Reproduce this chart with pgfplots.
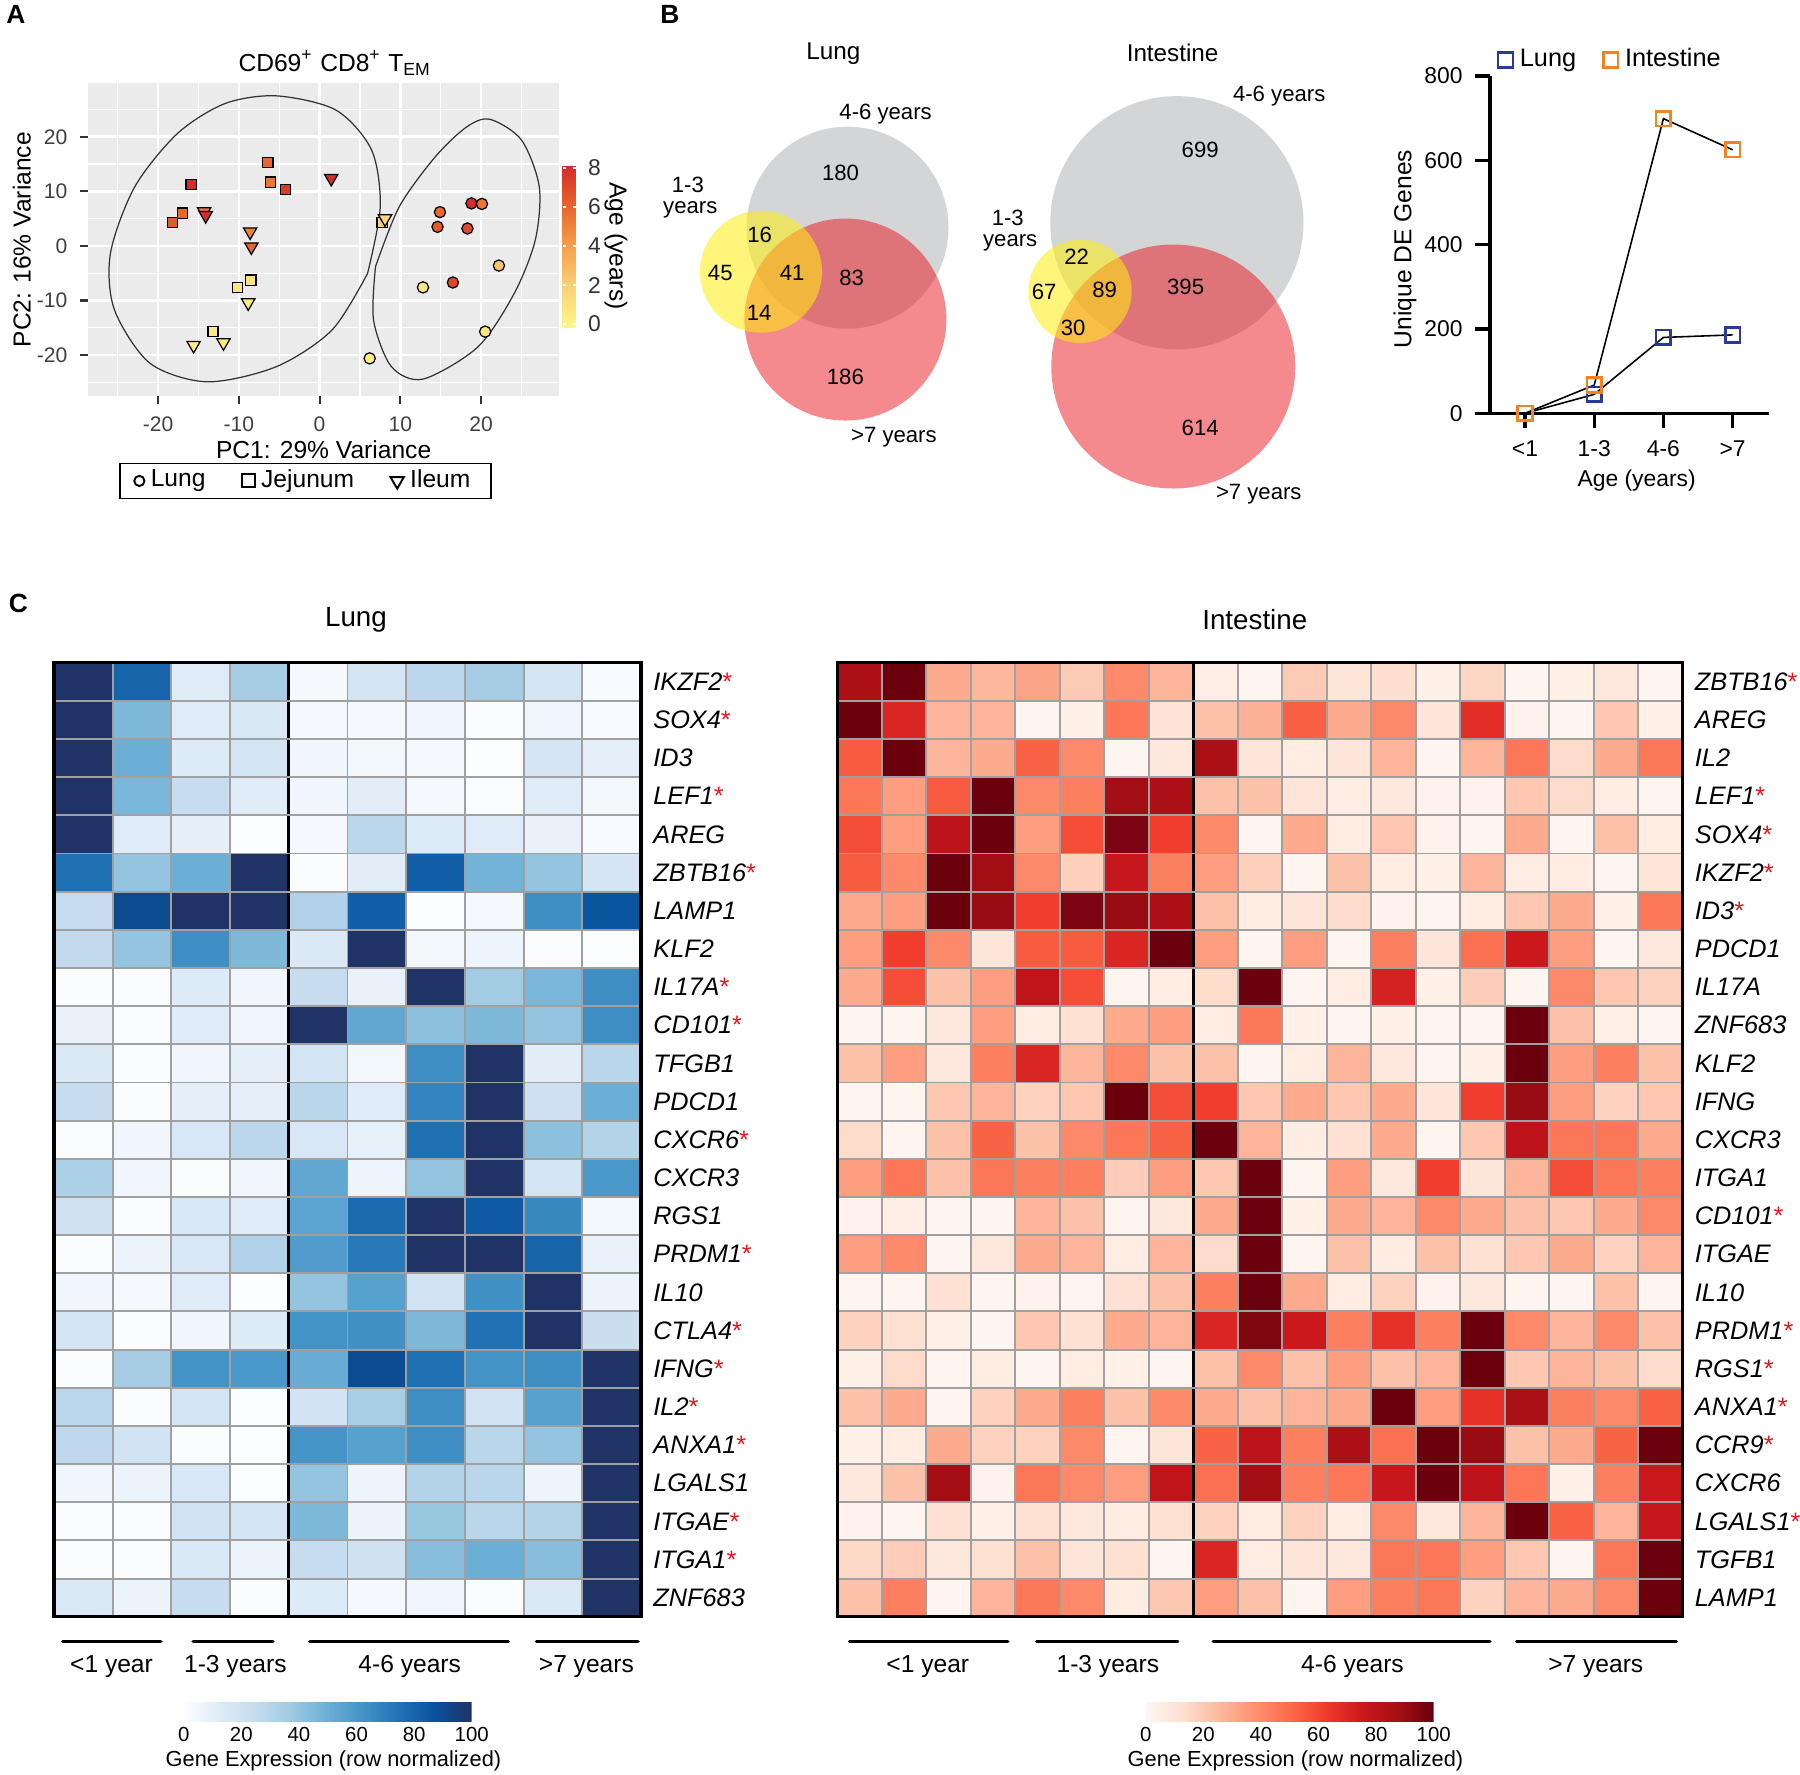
\documentclass[border=0pt]{standalone}
\usepackage{fontspec}
\setmainfont{Liberation Sans}
\usepackage{pgfplots}
\pgfplotsset{compat=1.18}

\definecolor{panelbg}{HTML}{EBEBEB}
\definecolor{tickgray}{HTML}{333333}
\definecolor{venngray}{HTML}{D4D5D7}
\definecolor{vennred}{RGB}{233,21,29}
\definecolor{vennyellow}{RGB}{255,237,13}
\definecolor{lungblue}{HTML}{2B3A96}
\definecolor{gutorange}{HTML}{F5821F}
\definecolor{starred}{HTML}{E8141A}
\definecolor{cellgrid}{HTML}{A0A0A0}

\newcommand{\fs}[1]{\fontsize{#1}{#1}\selectfont}
\newcommand{\g}[1]{\textit{#1}}
\newcommand{\gs}[1]{\textit{#1}\textcolor{starred}{*}}

\tikzset{grouplabel/.style={font=\fs{7pt}}, venn/.style={font=\fs{6.3pt}}}

\pgfplotsset{
  /pgf/number format/assume math mode=true,
  colormap={age}{rgb255(0cm)=(255,246,138) rgb255(2cm)=(250,208,120) rgb255(4cm)=(245,160,76) rgb255(6cm)=(232,100,46) rgb255(8cm)=(212,42,42)},
  colormap={blues}{rgb255(0cm)=(252,253,255) rgb255(1cm)=(222,235,247) rgb255(2cm)=(198,219,239) rgb255(3cm)=(158,202,225) rgb255(4cm)=(107,174,214) rgb255(5cm)=(66,146,198) rgb255(6cm)=(33,113,181) rgb255(7cm)=(8,81,156) rgb255(8cm)=(31,51,102)},
  colormap={reds}{rgb255(0cm)=(255,247,243) rgb255(1cm)=(254,224,210) rgb255(2cm)=(252,187,161) rgb255(3cm)=(252,146,114) rgb255(4cm)=(251,106,74) rgb255(5cm)=(239,59,44) rgb255(6cm)=(203,24,29) rgb255(7cm)=(165,15,21) rgb255(8cm)=(103,0,13)},
  marklegend/.style={legend image code/.code={\draw[##1] plot coordinates {(0cm,0cm)};}},
  heatmap/.style={
    scale only axis, axis on top, clip=false,
    xmin=0.5, ymin=0.5, ymax=25.5,
    axis line style={line width=0.9pt},
    xticklabel=\empty, xmajorgrids=true,
    ytick={1,...,25}, yticklabel pos=right,
    minor ytick={0.5,1.5,...,25.5}, yminorgrids=true, ymajorgrids=false,
    grid style={cellgrid, line width=0.55pt},
    major tick length=0pt, minor tick length=0pt,
    yticklabel style={font=\fs{7.2pt}},
    point meta min=0, point meta max=100,
    colorbar horizontal,
    colorbar style={
      at={(parent axis.south west)}, anchor=north west,
      scale only axis, width=2.88cm, height=0.19cm,
      xtick={0,20,...,100}, xticklabel pos=lower,
      major tick length=0pt, axis line style={draw=none},
      xticklabel style={font=\fs{5.8pt}, inner sep=1.5pt},
      xlabel={Gene Expression (row normalized)},
      xlabel style={font=\fs{6.2pt}, at={(axis description cs:0.52,0)}, anchor=center, yshift=-0.39cm},
    },
  },
}

\begin{document}
\begin{tikzpicture}
\useasboundingbox (0,0) rectangle (18cm,-17.74cm);

% ---------------- A: PCA ----------------
\begin{axis}[
  at={(3.2365cm,-2.3965cm)}, anchor=center,
  scale only axis, width=4.717cm, height=3.127cm,
  xmin=-28.7, xmax=29.7, ymin=-27.5, ymax=29.8,
  axis background/.style={fill=panelbg},
  axis line style={draw=none},
  tick pos=left, tick align=outside,
  xtick={-20,-10,...,20}, ytick={-20,-10,...,20},
  minor xtick={-25,-15,...,25}, minor ytick={-25,-15,...,25},
  grid=both,
  major grid style={white, line width=0.75pt},
  minor grid style={white, line width=0.35pt},
  major tick length=0.08cm, minor tick length=0pt,
  tick style={tickgray, line width=0.6pt},
  ticklabel style={font=\fs{6pt}, text=black!75},
  xlabel={PC1: 29\% Variance}, ylabel={PC2: 16\% Variance},
  label style={font=\fs{7pt}},
  xlabel style={at={(axis description cs:0.5,-0.173)}, anchor=center},
  ylabel style={at={(axis description cs:-0.14,0.5)}, anchor=center},
  colormap name=age, point meta min=-0.15, point meta max=8.15,
  colorbar,
  colorbar style={
    at={(parent axis.east)}, anchor=west, xshift=-0.268cm, yshift=-0.0635cm,
    scale only axis, width=0.13cm, height=1.62cm,
    ytick={0,2,...,8}, yticklabel pos=right, ytick pos=both,
    tick align=inside, major tick length=0.03cm, tick style={white, line width=0.4pt},
    axis line style={draw=none},
    yticklabel style={font=\fs{6.5pt}, text=black!80},
    ylabel={Age (years)},
    ylabel style={font=\fs{7pt}, rotate=180, at={(axis description cs:4.1,0.5)}, anchor=center},
  },
  legend columns=3, legend cell align=left,
  legend style={at={(0.4615,-0.2715)}, anchor=center, draw=black, line width=0.5pt,
    font=\fs{7pt}, inner xsep=4pt, inner ysep=0.5pt,
    nodes={inner ysep=1.2pt, inner xsep=1.8pt},
    /tikz/every even column/.append style={column sep=0.3cm}},
]
\addlegendimage{only marks, mark=o, mark size=1.45pt, mark options={black, line width=0.55pt}, marklegend}
\addlegendentry{Lung}
\addlegendimage{only marks, mark=square, mark size=1.85pt, mark options={black, line width=0.55pt}, marklegend}
\addlegendentry{Jejunum}
\addlegendimage{only marks, mark=triangle, mark size=2.2pt, mark options={black, rotate=180, line width=0.55pt}, marklegend}
\addlegendentry{Ileum}

% group ellipses
\addplot[forget plot, black!80, line width=0.35pt, smooth] coordinates {
  (5.94,-5.03) (1.54,-15.4) (-5.32,-22.1) (-13.9,-24.9) (-21.0,-21.5) (-25.4,-11.7)
  (-25.9,-1.37) (-22.9,10.8) (-17.6,20.6) (-11.7,26.1) (-5.32,27.5) (2.02,24.9)
  (6.43,17.6) (7.51,7.18) (5.94,-5.03)};
\addplot[forget plot, black!80, line width=0.35pt, smooth] coordinates {
  (6.92,-3.81) (9.86,7.18) (14.3,16.3) (18.2,21.8) (21.1,23.2) (25.0,19.4) (27.2,10.8)
  (26.7,1.07) (24.1,-8.69) (19.6,-18.5) (12.8,-24.4) (8.88,-22.1) (6.68,-13.6) (6.92,-3.81)};

% Jejunum
\addplot[forget plot, scatter, only marks, mark=square*, mark size=1.45pt, point meta=explicit,
  scatter/use mapped color={draw=black, fill=mapped color, line width=0.35pt}] coordinates {
  (-6.4,15.3) [6] (-6.05,11.7) [5.5] (-4.24,10.3) [7.5] (-15.9,11.3) [8] (-17.0,6.0) [6]
  (-18.2,4.25) [6.5] (7.75,4.25) [2] (-8.5,-6.25) [1] (-10.2,-7.6) [0.8] (-13.2,-15.7) [0.5]};
% Ileum
\addplot[forget plot, scatter, only marks, mark=triangle*, mark size=2.2pt, point meta=explicit,
  mark options={rotate=180},
  scatter/use mapped color={draw=black, fill=mapped color, line width=0.35pt}] coordinates {
  (1.44,12.4) [8] (-14.3,6.3) [5.5] (-14.1,5.6) [8] (-8.6,2.6) [5] (-8.45,-0.15) [6]
  (-8.84,-10.4) [0.5] (-15.6,-18.2) [0.5] (-11.9,-17.7) [0.5] (8.1,5.0) [1.5]};
% Lung
\addplot[forget plot, scatter, only marks, mark=*, mark size=1.6pt, point meta=explicit,
  scatter/use mapped color={draw=black, fill=mapped color, line width=0.35pt}] coordinates {
  (18.8,7.8) [8] (20.1,7.7) [5.5] (14.9,6.2) [6] (14.6,3.5) [6.5] (18.3,3.2) [7]
  (22.2,-3.6) [2.5] (12.8,-7.6) [0.8] (16.5,-6.7) [7] (20.5,-15.7) [0.8] (6.2,-20.6) [0.3]};
\end{axis}

% ---------------- B: Venn diagrams (axis units = picture pixels) ----------------
\begin{axis}[
  at={(9.9cm,-2.75cm)}, anchor=center,
  scale only axis, width=7cm, height=4.9cm,
  xmin=640, xmax=1340, ymin=30, ymax=520, y dir=reverse,
  hide axis, clip=false,
]
% lung
\addplot[only marks, mark=*, mark size=28.74pt, mark options={draw opacity=0, fill=venngray}] coordinates {(847.5,227.7)};
\addplot[only marks, mark=*, mark size=28.74pt, mark options={draw opacity=0, fill=vennred, fill opacity=0.5}] coordinates {(845.4,319.5)};
\addplot[only marks, mark=*, mark size=17.36pt, mark options={draw opacity=0, fill=vennyellow, fill opacity=0.55}] coordinates {(761,271.7)};
% intestine
\addplot[only marks, mark=*, mark size=36.02pt, mark options={draw opacity=0, fill=venngray}] coordinates {(1176.9,222.7)};
\addplot[only marks, mark=*, mark size=34.71pt, mark options={draw opacity=0, fill=vennred, fill opacity=0.5}] coordinates {(1173.3,366.5)};
\addplot[only marks, mark=*, mark size=14.71pt, mark options={draw opacity=0, fill=vennyellow, fill opacity=0.55}] coordinates {(1080,291.3)};
\end{axis}

% Venn labels and counts
\node[font=\fs{6.9pt}] at (8.333cm,-0.533cm) {Lung};
\node[venn] at (8.856cm,-1.14cm) {4-6 years};
\node[venn] at (6.879cm,-1.85cm) {1-3};
\node[venn] at (6.903cm,-2.10cm) {years};
\node[venn] at (8.939cm,-4.37cm) {>7 years};
\node[venn] at (8.405cm,-1.727cm) {180};
\node[venn] at (7.596cm,-2.35cm) {16};
\node[venn] at (7.203cm,-2.733cm) {45};
\node[venn] at (7.921cm,-2.73cm) {41};
\node[venn] at (8.517cm,-2.777cm) {83};
\node[venn] at (7.591cm,-3.127cm) {14};
\node[venn] at (8.454cm,-3.773cm) {186};
\node[font=\fs{6.9pt}] at (11.726cm,-0.533cm) {Intestine};
\node[venn] at (12.792cm,-0.957cm) {4-6 years};
\node[venn] at (10.078cm,-2.183cm) {1-3};
\node[venn] at (10.102cm,-2.43cm) {years};
\node[venn] at (12.588cm,-4.937cm) {>7 years};
\node[venn] at (12.002cm,-1.50cm) {699};
\node[venn] at (10.766cm,-2.567cm) {22};
\node[venn] at (10.441cm,-2.923cm) {67};
\node[venn] at (11.047cm,-2.90cm) {89};
\node[venn] at (11.856cm,-2.867cm) {395};
\node[venn] at (10.732cm,-3.277cm) {30};
\node[venn] at (12.002cm,-4.277cm) {614};

% ---------------- B: unique DE genes ----------------
\begin{axis}[
  at={(16.2965cm,-2.4465cm)}, anchor=center,
  scale only axis, width=2.793cm, height=3.373cm,
  xmin=-0.506, xmax=3.53, ymin=0, ymax=800,
  axis lines=left, axis line style={-, line width=0.95pt},
  clip=false,
  xtick={0,1,2,3}, xticklabels={<1,1-3,4-6,>7},
  ytick={0,200,...,800},
  tick align=outside, major tick length=0.15cm,
  tick style={black, line width=0.95pt},
  ticklabel style={font=\fs{6.5pt}},
  xlabel={Age (years)}, ylabel={Unique DE Genes},
  xlabel style={font=\fs{6.5pt}, at={(axis description cs:0.525,-0.198)}, anchor=center},
  ylabel style={font=\fs{7pt}, at={(axis description cs:-0.304,0.487)}, anchor=center},
  legend columns=2, legend cell align=left,
  legend style={draw=none, fill=none, at={(0.44,1.0475)}, anchor=center, font=\fs{7.2pt},
    /tikz/every even column/.append style={column sep=0.2cm}},
]
\addlegendimage{only marks, mark=square, mark size=2.1pt, mark options={draw=lungblue, line width=0.75pt}, marklegend}
\addlegendentry{Lung}
\addlegendimage{only marks, mark=square, mark size=2.1pt, mark options={draw=gutorange, line width=0.75pt}, marklegend}
\addlegendentry{Intestine}
\addplot[forget plot, black, line width=0.45pt, mark=square, mark size=2.1pt,
  mark options={draw=lungblue, line width=0.75pt}] coordinates {(0,0) (1,45) (2,180) (3,186)};
\addplot[forget plot, black, line width=0.45pt, mark=square, mark size=2.1pt,
  mark options={draw=gutorange, line width=0.75pt}] coordinates {(0,0) (1,67) (2,699) (3,625)};
\end{axis}

% ---------------- C: lung heatmap ----------------
\begin{axis}[heatmap,
  at={(3.475cm,-11.397cm)}, anchor=center, width=5.87cm, height=9.54cm,
  xmax=10.5,
  xtick={0.5,1.5,2.5,3.5,5.5,6.5,7.5,8.5,9.5,10.5},
  yticklabels={\g{ZNF683},\gs{ITGA1},\gs{ITGAE},\g{LGALS1},\gs{ANXA1},\gs{IL2},\gs{IFNG},\gs{CTLA4},\g{IL10},\gs{PRDM1},\g{RGS1},\g{CXCR3},\gs{CXCR6},\g{PDCD1},\g{TFGB1},\gs{CD101},\gs{IL17A},\g{KLF2},\g{LAMP1},\gs{ZBTB16},\g{AREG},\gs{LEF1},\g{ID3},\gs{SOX4},\gs{IKZF2}},
  colormap name=blues,
  colorbar style={xshift=1.297cm, yshift=-0.56cm},
]
\addplot[matrix plot*, mesh input=image, mesh/cols=10, point meta=explicit] coordinates {
(1,1) [14] (2,1) [7] (3,1) [24] (4,1) [1] (5,1) [13] (6,1) [3] (7,1) [5] (8,1) [1] (9,1) [14] (10,1) [100]
(1,2) [1] (2,2) [1] (3,2) [14] (4,2) [7] (5,2) [24] (6,2) [20] (7,2) [43] (8,2) [50] (9,2) [43] (10,2) [100]
(1,3) [1] (2,3) [1] (3,3) [19] (4,3) [18] (5,3) [45] (6,3) [7] (7,3) [39] (8,3) [29] (9,3) [31] (10,3) [100]
(1,4) [5] (2,4) [7] (3,4) [16] (4,4) [0] (5,4) [40] (6,4) [6] (7,4) [31] (8,4) [29] (9,4) [6] (10,4) [100]
(1,5) [27] (2,5) [19] (3,5) [1] (4,5) [0] (5,5) [61] (6,5) [56] (7,5) [64] (8,5) [29] (9,5) [40] (10,5) [100]
(1,6) [28] (2,6) [1] (3,6) [18] (4,6) [0] (5,6) [19] (6,6) [34] (7,6) [64] (8,6) [19] (9,6) [56] (10,6) [100]
(1,7) [1] (2,7) [35] (3,7) [62] (4,7) [60] (5,7) [51] (6,7) [90] (7,7) [76] (8,7) [62] (9,7) [64] (10,7) [100]
(1,8) [18] (2,8) [1] (3,8) [5] (4,8) [13] (5,8) [62] (6,8) [63] (7,8) [45] (8,8) [75] (9,8) [100] (10,8) [23]
(1,9) [5] (2,9) [3] (3,9) [12] (4,9) [0] (5,9) [40] (6,9) [56] (7,9) [19] (8,9) [63] (9,9) [100] (10,9) [7]
(1,10) [1] (2,10) [7] (3,10) [16] (4,10) [32] (5,10) [58] (6,10) [72] (7,10) [100] (8,10) [100] (9,10) [80] (10,10) [8]
(1,11) [20] (2,11) [1] (3,11) [16] (4,11) [12] (5,11) [55] (6,11) [78] (7,11) [100] (8,11) [84] (9,11) [66] (10,11) [4]
(1,12) [33] (2,12) [5] (3,12) [1] (4,12) [5] (5,12) [53] (6,12) [6] (7,12) [40] (8,12) [100] (9,12) [18] (10,12) [60]
(1,13) [1] (2,13) [5] (3,13) [16] (4,13) [28] (5,13) [16] (6,13) [9] (7,13) [76] (8,13) [100] (9,13) [42] (10,13) [31]
(1,14) [24] (2,14) [1] (3,14) [10] (4,14) [10] (5,14) [29] (6,14) [12] (7,14) [68] (8,14) [100] (9,14) [21] (10,14) [50]
(1,15) [14] (2,15) [1] (3,15) [5] (4,15) [10] (5,15) [18] (6,15) [4] (7,15) [64] (8,15) [100] (9,15) [11] (10,15) [29]
(1,16) [8] (2,16) [1] (3,16) [12] (4,16) [5] (5,16) [100] (6,16) [53] (7,16) [42] (8,16) [45] (9,16) [40] (10,16) [64]
(1,17) [1] (2,17) [1] (3,17) [13] (4,17) [5] (5,17) [24] (6,17) [8] (7,17) [100] (8,17) [36] (9,17) [46] (10,17) [64]
(1,18) [26] (2,18) [40] (3,18) [64] (4,18) [45] (5,18) [14] (6,18) [100] (7,18) [4] (8,18) [6] (9,18) [1] (10,18) [0]
(1,19) [25] (2,19) [90] (3,19) [100] (4,19) [100] (5,19) [32] (6,19) [82] (7,19) [0] (8,19) [3] (9,19) [64] (10,19) [86]
(1,20) [76] (2,20) [40] (3,20) [50] (4,20) [100] (5,20) [1] (6,20) [11] (7,20) [82] (8,20) [48] (9,20) [40] (10,20) [17]
(1,21) [100] (2,21) [12] (3,21) [10] (4,21) [0] (5,21) [3] (6,21) [28] (7,21) [13] (8,21) [12] (9,21) [8] (10,21) [2]
(1,22) [100] (2,22) [46] (3,22) [24] (4,22) [12] (5,22) [5] (6,22) [11] (7,22) [3] (8,22) [1] (9,22) [12] (10,22) [4]
(1,23) [100] (2,23) [50] (3,23) [13] (4,23) [18] (5,23) [5] (6,23) [4] (7,23) [3] (8,23) [0] (9,23) [17] (10,23) [10]
(1,24) [100] (2,24) [45] (3,24) [12] (4,24) [15] (5,24) [3] (6,24) [3] (7,24) [5] (8,24) [1] (9,24) [5] (10,24) [2]
(1,25) [100] (2,25) [80] (3,25) [12] (4,25) [35] (5,25) [3] (6,25) [18] (7,25) [28] (8,25) [35] (9,25) [18] (10,25) [2]
};
\addplot[forget plot, black, line width=0.75pt] coordinates {(4.5,0.5) (4.5,25.5)};
\addplot[forget plot, black, line width=1pt, line cap=round] coordinates {(0.65,-0.155) (2.32,-0.155)};
\addplot[forget plot, black, line width=1pt, line cap=round] coordinates {(2.87,-0.155) (4.23,-0.155)};
\addplot[forget plot, black, line width=1pt, line cap=round] coordinates {(4.86,-0.155) (8.24,-0.155)};
\addplot[forget plot, black, line width=1pt, line cap=round] coordinates {(8.72,-0.155) (10.45,-0.155)};
\node[grouplabel] at (axis cs:1.48,-0.81) {<1 year};
\node[grouplabel] at (axis cs:3.59,-0.81) {1-3 years};
\node[grouplabel] at (axis cs:6.56,-0.81) {4-6 years};
\node[grouplabel] at (axis cs:9.57,-0.81) {>7 years};
\end{axis}

% ---------------- C: intestine heatmap ----------------
\begin{axis}[heatmap,
  at={(12.6cm,-11.397cm)}, anchor=center, width=8.45cm, height=9.54cm,
  xmax=19.5,
  xtick={0.5,1.5,2.5,3.5,4.5,5.5,6.5,7.5,9.5,10.5,11.5,12.5,13.5,14.5,15.5,16.5,17.5,18.5,19.5},
  yticklabels={\g{LAMP1},\g{TGFB1},\gs{LGALS1},\g{CXCR6},\gs{CCR9},\gs{ANXA1},\gs{RGS1},\gs{PRDM1},\g{IL10},\g{ITGAE},\gs{CD101},\g{ITGA1},\g{CXCR3},\g{IFNG},\g{KLF2},\g{ZNF683},\g{IL17A},\g{PDCD1},\gs{ID3},\gs{IKZF2},\gs{SOX4},\gs{LEF1},\g{IL2},\g{AREG},\gs{ZBTB16}},
  colormap name=reds,
  colorbar style={xshift=3.082cm, yshift=-0.56cm},
]
\addplot[matrix plot*, mesh input=image, mesh/cols=19, point meta=explicit] coordinates {
(1,1) [23] (2,1) [43] (3,1) [1] (4,1) [27] (5,1) [46] (6,1) [40] (7,1) [6] (8,1) [21] (9,1) [34] (10,1) [23] (11,1) [1] (12,1) [34] (13,1) [43] (14,1) [46] (15,1) [17] (16,1) [27] (17,1) [30] (18,1) [40] (19,1) [99]
(1,2) [15] (2,2) [19] (3,2) [8] (4,2) [12] (5,2) [23] (6,2) [10] (7,2) [12] (8,2) [1] (9,2) [70] (10,2) [6] (11,2) [10] (12,2) [8] (13,2) [46] (14,2) [46] (15,2) [34] (16,2) [21] (17,2) [1] (18,2) [46] (19,2) [99]
(1,3) [3] (2,3) [1] (3,3) [12] (4,3) [4] (5,3) [12] (6,3) [8] (7,3) [6] (8,3) [12] (9,3) [17] (10,3) [6] (11,3) [17] (12,3) [6] (13,3) [40] (14,3) [8] (15,3) [27] (16,3) [99] (17,3) [52] (18,3) [27] (19,3) [77]
(1,4) [8] (2,4) [23] (3,4) [88] (4,4) [3] (5,4) [46] (6,4) [40] (7,4) [34] (8,4) [79] (9,4) [48] (10,4) [88] (11,4) [43] (12,4) [46] (13,4) [77] (14,4) [99] (15,4) [80] (16,4) [46] (17,4) [4] (18,4) [43] (19,4) [75]
(1,5) [4] (2,5) [6] (3,5) [30] (4,5) [17] (5,5) [17] (6,5) [40] (7,5) [1] (8,5) [10] (9,5) [52] (10,5) [80] (11,5) [43] (12,5) [86] (13,5) [48] (14,5) [99] (15,5) [90] (16,5) [23] (17,5) [30] (18,5) [52] (19,5) [99]
(1,6) [23] (2,6) [30] (3,6) [1] (4,6) [17] (5,6) [30] (6,6) [43] (7,6) [23] (8,6) [40] (9,6) [30] (10,6) [23] (11,6) [27] (12,6) [30] (13,6) [99] (14,6) [34] (15,6) [66] (16,6) [86] (17,6) [43] (18,6) [40] (19,6) [52]
(1,7) [4] (2,7) [14] (3,7) [1] (4,7) [6] (5,7) [1] (6,7) [6] (7,7) [4] (8,7) [1] (9,7) [23] (10,7) [40] (11,7) [23] (12,7) [34] (13,7) [23] (14,7) [27] (15,7) [99] (16,7) [21] (17,7) [27] (18,7) [23] (19,7) [14]
(1,8) [17] (2,8) [12] (3,8) [4] (4,8) [1] (5,8) [21] (6,8) [12] (7,8) [30] (8,8) [27] (9,8) [70] (10,8) [95] (11,8) [75] (12,8) [43] (13,8) [66] (14,8) [43] (15,8) [99] (16,8) [40] (17,8) [27] (18,8) [40] (19,8) [23]
(1,9) [1] (2,9) [1] (3,9) [12] (4,9) [1] (5,9) [3] (6,9) [1] (7,9) [12] (8,9) [23] (9,9) [43] (10,9) [99] (11,9) [30] (12,9) [6] (13,9) [17] (14,9) [3] (15,9) [8] (16,9) [1] (17,9) [1] (18,9) [23] (19,9) [1]
(1,10) [34] (2,10) [40] (3,10) [1] (4,10) [8] (5,10) [30] (6,10) [27] (7,10) [6] (8,10) [27] (9,10) [14] (10,10) [99] (11,10) [1] (12,10) [23] (13,10) [6] (14,10) [23] (15,10) [12] (16,10) [21] (17,10) [30] (18,10) [17] (19,10) [27]
(1,11) [3] (2,11) [5] (3,11) [1] (4,11) [1] (5,11) [27] (6,11) [23] (7,11) [1] (8,11) [8] (9,11) [30] (10,11) [99] (11,11) [4] (12,11) [30] (13,11) [27] (14,11) [40] (15,11) [30] (16,11) [23] (17,11) [21] (18,11) [30] (19,11) [40]
(1,12) [34] (2,12) [46] (3,12) [23] (4,12) [46] (5,12) [43] (6,12) [43] (7,12) [19] (8,12) [34] (9,12) [21] (10,12) [99] (11,12) [1] (12,12) [34] (13,12) [8] (14,12) [62] (15,12) [10] (16,12) [27] (17,12) [58] (18,12) [46] (19,12) [43]
(1,13) [14] (2,13) [1] (3,13) [23] (4,13) [52] (5,13) [23] (6,13) [40] (7,13) [46] (8,13) [52] (9,13) [99] (10,13) [27] (11,13) [6] (12,13) [12] (13,13) [30] (14,13) [1] (15,13) [21] (16,13) [80] (17,13) [46] (18,13) [46] (19,13) [30]
(1,14) [1] (2,14) [1] (3,14) [21] (4,14) [27] (5,14) [17] (6,14) [21] (7,14) [99] (8,14) [58] (9,14) [62] (10,14) [21] (11,14) [30] (12,14) [21] (13,14) [30] (14,14) [10] (15,14) [62] (16,14) [90] (17,14) [34] (18,14) [17] (19,14) [21]
(1,15) [23] (2,15) [34] (3,15) [8] (4,15) [43] (5,15) [70] (6,15) [27] (7,15) [40] (8,15) [23] (9,15) [23] (10,15) [1] (11,15) [6] (12,15) [27] (13,15) [8] (14,15) [1] (15,15) [4] (16,15) [99] (17,15) [34] (18,15) [43] (19,15) [23]
(1,16) [1] (2,16) [1] (3,16) [8] (4,16) [34] (5,16) [6] (6,16) [12] (7,16) [30] (8,16) [34] (9,16) [6] (10,16) [46] (11,16) [4] (12,16) [1] (13,16) [4] (14,16) [1] (15,16) [1] (16,16) [99] (17,16) [23] (18,16) [4] (19,16) [1]
(1,17) [30] (2,17) [58] (3,17) [23] (4,17) [34] (5,17) [79] (6,17) [58] (7,17) [1] (8,17) [6] (9,17) [14] (10,17) [99] (11,17) [1] (12,17) [6] (13,17) [72] (14,17) [4] (15,17) [19] (16,17) [1] (17,17) [40] (18,17) [21] (19,17) [17]
(1,18) [34] (2,18) [62] (3,18) [40] (4,18) [10] (5,18) [54] (6,18) [54] (7,18) [70] (8,18) [99] (9,18) [34] (10,18) [1] (11,18) [34] (12,18) [1] (13,18) [43] (14,18) [10] (15,18) [48] (16,18) [75] (17,18) [34] (18,18) [1] (19,18) [8]
(1,19) [30] (2,19) [34] (3,19) [99] (4,19) [90] (5,19) [62] (6,19) [96] (7,19) [90] (8,19) [86] (9,19) [23] (10,19) [6] (11,19) [10] (12,19) [14] (13,19) [3] (14,19) [1] (15,19) [6] (16,19) [21] (17,19) [30] (18,19) [4] (19,19) [46]
(1,20) [54] (2,20) [40] (3,20) [99] (4,20) [88] (5,20) [40] (6,20) [18] (7,20) [77] (8,20) [43] (9,20) [34] (10,20) [18] (11,20) [1] (12,20) [23] (13,20) [6] (14,20) [4] (15,20) [27] (16,20) [6] (17,20) [6] (18,20) [1] (19,20) [10]
(1,21) [58] (2,21) [34] (3,21) [80] (4,21) [99] (5,21) [34] (6,21) [58] (7,21) [96] (8,21) [62] (9,21) [40] (10,21) [1] (11,21) [30] (12,21) [6] (13,21) [21] (14,21) [3] (15,21) [1] (16,21) [30] (17,21) [1] (18,21) [23] (19,21) [6]
(1,22) [46] (2,22) [34] (3,22) [54] (4,22) [99] (5,22) [40] (6,22) [43] (7,22) [88] (8,22) [86] (9,22) [23] (10,22) [23] (11,22) [10] (12,22) [6] (13,22) [8] (14,22) [3] (15,22) [3] (16,22) [21] (17,22) [14] (18,22) [6] (19,22) [1]
(1,23) [54] (2,23) [99] (3,23) [27] (4,23) [30] (5,23) [52] (6,23) [40] (7,23) [1] (8,23) [8] (9,23) [86] (10,23) [10] (11,23) [6] (12,23) [10] (13,23) [27] (14,23) [1] (15,23) [27] (16,23) [46] (17,23) [14] (18,23) [30] (19,23) [46]
(1,24) [99] (2,24) [70] (3,24) [27] (4,24) [27] (5,24) [1] (6,24) [4] (7,24) [46] (8,24) [11] (9,24) [23] (10,24) [28] (11,24) [53] (12,24) [30] (13,24) [40] (14,24) [10] (15,24) [67] (16,24) [3] (17,24) [1] (18,24) [21] (19,24) [4]
(1,25) [86] (2,25) [99] (3,25) [30] (4,25) [26] (5,25) [32] (6,25) [20] (7,25) [40] (8,25) [27] (9,25) [5] (10,25) [1] (11,25) [20] (12,25) [10] (13,25) [13] (14,25) [4] (15,25) [16] (16,25) [1] (17,25) [4] (18,25) [8] (19,25) [1]
};
\addplot[forget plot, black, line width=0.75pt] coordinates {(8.5,0.5) (8.5,25.5)};
\addplot[forget plot, black, line width=1pt, line cap=round] coordinates {(0.77,-0.155) (4.33,-0.155)};
\addplot[forget plot, black, line width=1pt, line cap=round] coordinates {(4.98,-0.155) (8.15,-0.155)};
\addplot[forget plot, black, line width=1pt, line cap=round] coordinates {(8.95,-0.155) (15.17,-0.155)};
\addplot[forget plot, black, line width=1pt, line cap=round] coordinates {(15.77,-0.155) (19.36,-0.155)};
\node[grouplabel] at (axis cs:2.53,-0.81) {<1 year};
\node[grouplabel] at (axis cs:6.58,-0.81) {1-3 years};
\node[grouplabel] at (axis cs:12.08,-0.81) {4-6 years};
\node[grouplabel] at (axis cs:17.55,-0.81) {>7 years};
\end{axis}

% ---------------- titles and panel letters ----------------
\node[font=\fs{7pt}] at (3.35cm,-0.63cm) {CD69\textsuperscript{+} CD8\textsuperscript{+} T\textsubscript{EM}};
\node[font=\fs{7.9pt}] at (3.56cm,-6.2cm) {Lung};
\node[font=\fs{7.9pt}] at (12.548cm,-6.2cm) {Intestine};
\node[font=\bfseries\fs{7.5pt}] at (0.16cm,-0.14cm) {A};
\node[font=\bfseries\fs{7.5pt}] at (6.70cm,-0.14cm) {B};
\node[font=\bfseries\fs{7.5pt}] at (0.184cm,-6.03cm) {C};
\end{tikzpicture}
\end{document}
